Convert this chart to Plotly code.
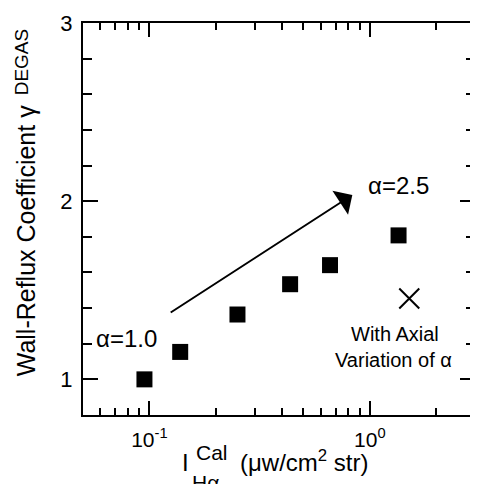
import numpy as np
import plotly.graph_objects as go

# Data
x_sq = [0.095, 0.138, 0.251, 0.435, 0.66, 1.35]
y_sq = [1.0, 1.154, 1.364, 1.534, 1.641, 1.808]
x_axial = [1.51]
y_axial = [1.454]

x_tickvals = [0.1, 1.0]
x_ticktext = ["10<sup>-1</sup>", "10<sup>0</sup>"]
x_minor = [0.06, 0.07, 0.08, 0.09, 0.2, 0.3, 0.4, 0.5, 0.6, 0.7, 0.8, 0.9, 2, 3]
y_tickvals = [1, 2, 3]
y_minor = [1.2, 1.4, 1.6, 1.8, 2.2, 2.4, 2.6, 2.8]

arrow_start = (0.123, 1.37)
arrow_end = (0.833, 2.035)

# page body has an 8px margin; figure sized to fit the 478x484 window
OFF = 8
W, H = 470, 476
L, R, T, B = 75, 1, 15, 69
FONT = "Liberation Sans, Arial, Helvetica, sans-serif"


def px_to_paper(wx, wy):
    fx, fy = wx - OFF, wy - OFF
    return (fx - L) / (W - L - R), (H - B - fy) / (H - T - B)


def paper_text(wx, wy, text, size, angle=0):
    px, py = px_to_paper(wx, wy)
    return dict(x=px, y=py, xref="paper", yref="paper", text=text,
                xanchor="center", yanchor="middle", textangle=angle,
                showarrow=False, font=dict(size=size))


fig = go.Figure()
fig.add_trace(go.Scatter(
    x=x_sq, y=y_sq, mode="markers",
    marker=dict(symbol="square", size=16, color="black"),
    showlegend=False))
fig.add_trace(go.Scatter(
    x=x_axial, y=y_axial, mode="markers",
    marker=dict(symbol="x-thin-open", size=20, color="black",
                line=dict(color="black", width=2)),
    showlegend=False))

anns = []
# arrow
anns.append(dict(x=np.log10(arrow_end[0]), y=arrow_end[1],
                 ax=np.log10(arrow_start[0]), ay=arrow_start[1],
                 xref="x", yref="y", axref="x", ayref="y",
                 showarrow=True, arrowhead=1, arrowsize=2.4, arrowwidth=2,
                 arrowcolor="black", text=""))
anns.append(dict(x=np.log10(0.0785), y=1.23, xref="x", yref="y",
                 xanchor="center", yanchor="middle",
                 text="α=1.0", showarrow=False, font=dict(size=24)))
anns.append(dict(x=np.log10(1.35), y=2.09, xref="x", yref="y",
                 xanchor="center", yanchor="middle",
                 text="α=2.5", showarrow=False, font=dict(size=24)))
anns.append(dict(x=np.log10(1.30), y=1.253, xref="x", yref="y",
                 xanchor="center", yanchor="middle",
                 text="With Axial", showarrow=False, font=dict(size=20)))
anns.append(dict(x=np.log10(1.28), y=1.107, xref="x", yref="y",
                 xanchor="center", yanchor="middle",
                 text="Variation of α", showarrow=False, font=dict(size=20)))

# y-axis title (main text + raised superscript)
anns.append(paper_text(26, 241, "Wall-Reflux Coefficient γ", 25, -90))
anns.append(paper_text(21, 62, "DEGAS", 19, -90))
# x-axis title pieces
anns.append(paper_text(186, 463, "I", 24))
anns.append(paper_text(213, 452, "Cal", 21))
anns.append(paper_text(206, 482, "Hα", 21))
anns.append(paper_text(305, 461, "(μw/cm<sup>2</sup> str)", 24))

fig.update_layout(
    width=W, height=H,
    margin=dict(l=L, r=R, t=T, b=B),
    paper_bgcolor="white", plot_bgcolor="white",
    font=dict(family=FONT, size=20, color="black"),
    annotations=anns,
    xaxis=dict(type="log", range=[np.log10(0.05), np.log10(3.0)],
               tickmode="array", tickvals=x_tickvals, ticktext=x_ticktext,
               ticks="inside", ticklen=14, tickwidth=2, tickcolor="black",
               showline=True, linewidth=2, linecolor="black", mirror="ticks",
               showgrid=False, zeroline=False,
               tickfont=dict(size=21), ticklabelstandoff=5,
               minor=dict(tickmode="array", tickvals=x_minor, ticks="inside",
                          ticklen=7, tickwidth=1.5, tickcolor="black",
                          showgrid=False)),
    yaxis=dict(range=[0.8, 3.0],
               tickmode="array", tickvals=y_tickvals,
               ticks="inside", ticklen=15, tickwidth=2, tickcolor="black",
               showline=True, linewidth=2, linecolor="black", mirror="ticks",
               showgrid=False, zeroline=False,
               tickfont=dict(size=22), ticklabelstandoff=4,
               minor=dict(tickmode="array", tickvals=y_minor, ticks="inside",
                          ticklen=9, tickwidth=1.5, tickcolor="black",
                          showgrid=False)),
)

fig.write_html("out.html")
